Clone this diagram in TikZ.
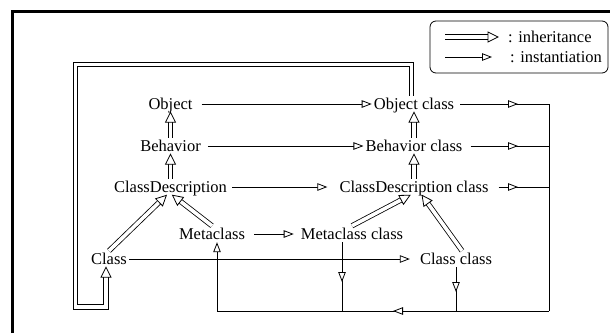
\documentclass[tikz,border=0pt]{standalone}
\usepackage{fontspec}
\setmainfont{Liberation Serif}
\usetikzlibrary{arrows.meta,decorations.markings}
\tikzset{
  insttip/.tip={Triangle[length=10pt,width=7.5pt,fill=white,line width=0.8pt]},
  lbl/.style={font=\fontsize{16.5}{19}\selectfont, inner sep=2pt, text height=11pt, text depth=1pt},
  thinln/.style={line width=0.8pt},
  inst/.style={thinln, -insttip},
  instmid/.style={thinln, postaction={decorate},
    decoration={markings, mark=at position #1 with {\arrow{insttip}}}},
  inh/.style={line width=0.8pt, double, double distance=3.6pt, shorten >=7pt,
    postaction={decorate},
    decoration={markings, mark=at position 1 with
      {\draw[line width=0.8pt, fill=white, shorten >=0pt] (0,0) -- (-10pt,5pt) -- (-10pt,-5pt) -- cycle;}}},
}
\begin{document}
\begin{tikzpicture}[x=1pt,y=-1pt]
\useasboundingbox (0,0) rectangle (610,333);
\draw[line width=3pt] (12.5,333) -- (12.5,11.5) -- (610,11.5);

% nodes
\node[lbl] (obj)  at (170.5,104) {Object};
\node[lbl] (beh)  at (170.5,146) {Behavior};
\node[lbl] (cd)   at (170.5,187) {ClassDescription};
\node[lbl] (meta) at (212,234) {Metaclass};
\node[lbl] (cls)  at (109,259) {Class};
\node[lbl] (objc) at (414,104) {Object class};
\node[lbl] (behc) at (414,146) {Behavior class};
\node[lbl] (cdc)  at (414,187) {ClassDescription class};
\node[lbl] (mc)   at (352,234) {Metaclass class};
\node[lbl] (cc)   at (456,259) {Class class};

% helper coordinates
\coordinate (r1) at (549,104);
\coordinate (r2) at (549,146);
\coordinate (r3) at (549,187);
\coordinate (rb) at (549,311);
\coordinate (lb) at (217,311);
\coordinate (mcb) at (342,311);
\coordinate (lt) at (75.5,64.5);
\coordinate (lbot) at (75.5,307);

% instantiation
\draw[inst, shorten <=7pt] (obj) -- (objc);
\draw[inst, shorten <=5pt] (beh) -- (behc);
\draw[inst, shorten <=3pt, shorten >=10pt] (cd) -- (cdc);
\draw[inst, shorten <=7pt, shorten >=5pt] (meta) -- (mc);
\draw[inst, shorten >=8pt] (cls) -- (cc);

\draw[instmid=-31pt, shorten <=4pt] (objc) -- (r1);
\draw[instmid=-31pt, shorten <=6pt] (behc) -- (r2);
\draw[instmid=-31pt, shorten <=8pt] (cdc) -- (r3);
\draw[thinln] (r1) -- (rb);
\draw[instmid=156pt] (rb) -- (lb);
\draw[inst] (lb) -- (lb |- meta.south);
\draw[instmid=-19pt] (cc.south) -- (cc.south |- lb);
\draw[instmid=-29pt] (mcb |- mc.south) -- (mcb);

% inheritance
\draw[inh] (beh) -- (obj);
\draw[inh] (cd) -- (beh);
\draw[inh] (cls.north) -- ([xshift=-4pt]cd.south);
\draw[inh] (meta.north) -- ([xshift=2pt]cd.south);
\draw[inh] (behc) -- (objc);
\draw[inh] (cdc) -- (behc);
\draw[inh] (mc.north) -- ([xshift=-4pt]cdc.south);
\draw[inh] ([xshift=6pt]cc.north) -- ([xshift=8pt]cdc.south);
\draw[inh] ([xshift=-2.5pt]objc.north) |- (lt) -- (lbot) -| ([xshift=-3pt]cls.south);

% legend
\node[draw, line width=0.8pt, rounded corners=6pt, minimum width=178pt, minimum height=52pt, inner sep=0pt] (legend) at (519,47) {};
\coordinate (l1a) at (445,37);
\coordinate (l1b) at (498,37);
\coordinate (l2a) at (445,57);
\coordinate (l2b) at (492,57);
\draw[inh] (l1a) -- (l1b);
\draw[inst] (l2a) -- (l2b);
\node[lbl, anchor=west] (t1) at (506,37) {: inheritance};
\node[lbl, anchor=west] (t2) at (508,57) {: instantiation};
\end{tikzpicture}
\end{document}
